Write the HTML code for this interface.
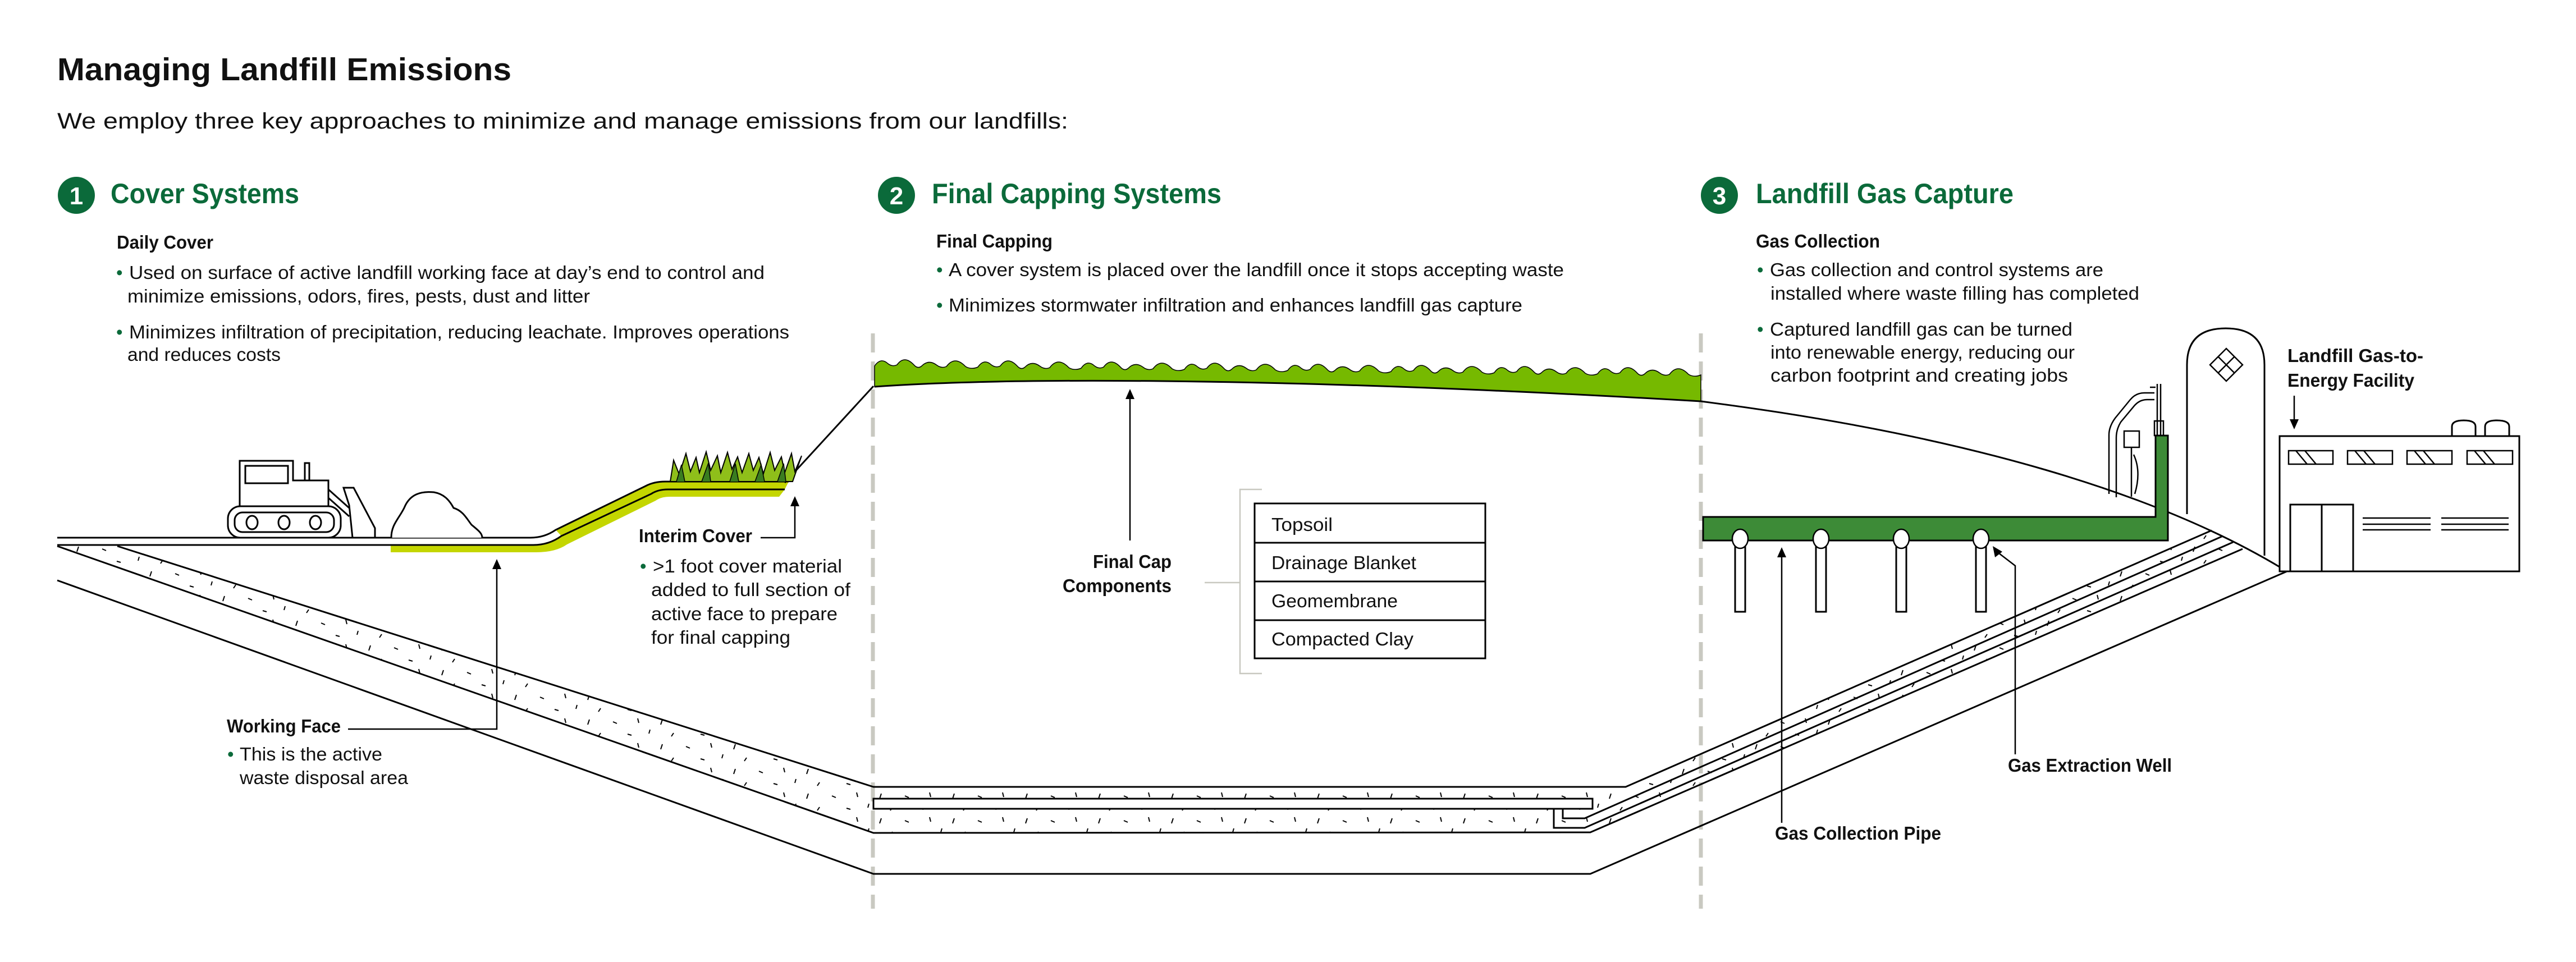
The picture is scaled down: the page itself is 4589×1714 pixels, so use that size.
<!DOCTYPE html>
<html><head><meta charset="utf-8"><style>
html,body{margin:0;padding:0;background:#fff;}
svg{display:block;}
text{font-family:"Liberation Sans",sans-serif;fill:#111;}
.b{font-size:33px;}
.bd{font-size:33px;font-weight:bold;}
.h{font-size:50px;font-weight:bold;fill:#0b6a3a;}
.g{fill:#0b6a3a;font-size:33px;}
.n{font-size:44px;font-weight:bold;fill:#fff;}
</style></head><body>
<svg width="4589" height="1714" viewBox="0 0 4589 1714" xmlns="http://www.w3.org/2000/svg">
<defs>
<pattern id="hat" width="130" height="44" patternUnits="userSpaceOnUse">
<path d="M10,6 l-3,9 M52,10 l7,3 M96,4 l2,8 M30,30 l-4,6 M78,32 l7,2 M118,24 l-2,7" stroke="#000" stroke-width="2" fill="none"/>
</pattern>
</defs>

<!-- Title -->
<text x="102" y="143" font-size="57" font-weight="bold" textLength="809" lengthAdjust="spacingAndGlyphs">Managing Landfill Emissions</text>
<text x="102" y="229" font-size="40" textLength="1801" lengthAdjust="spacingAndGlyphs">We employ three key approaches to minimize and manage emissions from our landfills:</text>

<!-- Section heads -->
<circle cx="136" cy="348" r="33" fill="#0b6a3a"/><text class="n" x="136" y="364" text-anchor="middle">1</text>
<text class="h" x="197" y="362" textLength="336" lengthAdjust="spacingAndGlyphs">Cover Systems</text>
<circle cx="1597" cy="348" r="33" fill="#0b6a3a"/><text class="n" x="1597" y="364" text-anchor="middle">2</text>
<text class="h" x="1660" y="362" textLength="516" lengthAdjust="spacingAndGlyphs">Final Capping Systems</text>
<circle cx="3063" cy="348" r="33" fill="#0b6a3a"/><text class="n" x="3063" y="364" text-anchor="middle">3</text>
<text class="h" x="3128" y="362" textLength="459" lengthAdjust="spacingAndGlyphs">Landfill Gas Capture</text>

<!-- Section 1 text -->
<text class="bd" x="208" y="443" textLength="172" lengthAdjust="spacingAndGlyphs">Daily Cover</text>
<text class="g" x="207" y="497">•</text>
<text class="b" x="230" y="497" textLength="1132" lengthAdjust="spacingAndGlyphs">Used on surface of active landfill working face at day’s end to control and</text>
<text class="b" x="227" y="539" textLength="824" lengthAdjust="spacingAndGlyphs">minimize emissions, odors, fires, pests, dust and litter</text>
<text class="g" x="207" y="603">•</text>
<text class="b" x="230" y="603" textLength="1176" lengthAdjust="spacingAndGlyphs">Minimizes infiltration of precipitation, reducing leachate. Improves operations</text>
<text class="b" x="227" y="643" textLength="273" lengthAdjust="spacingAndGlyphs">and reduces costs</text>

<!-- Section 2 text -->
<text class="bd" x="1668" y="441" textLength="207" lengthAdjust="spacingAndGlyphs">Final Capping</text>
<text class="g" x="1668" y="492">•</text>
<text class="b" x="1690" y="492" textLength="1096" lengthAdjust="spacingAndGlyphs">A cover system is placed over the landfill once it stops accepting waste</text>
<text class="g" x="1668" y="555">•</text>
<text class="b" x="1690" y="555" textLength="1022" lengthAdjust="spacingAndGlyphs">Minimizes stormwater infiltration and enhances landfill gas capture</text>

<!-- Section 3 text -->
<text class="bd" x="3128" y="441" textLength="221" lengthAdjust="spacingAndGlyphs">Gas Collection</text>
<text class="g" x="3130" y="492">•</text>
<text class="b" x="3153" y="492" textLength="594" lengthAdjust="spacingAndGlyphs">Gas collection and control systems are</text>
<text class="b" x="3154" y="534" textLength="657" lengthAdjust="spacingAndGlyphs">installed where waste filling has completed</text>
<text class="g" x="3130" y="598">•</text>
<text class="b" x="3153" y="598" textLength="539" lengthAdjust="spacingAndGlyphs">Captured landfill gas can be turned</text>
<text class="b" x="3154" y="639" textLength="542" lengthAdjust="spacingAndGlyphs">into renewable energy, reducing our</text>
<text class="b" x="3154" y="680" textLength="530" lengthAdjust="spacingAndGlyphs">carbon footprint and creating jobs</text>

<!-- Dashed separators -->
<line x1="1555" y1="594" x2="1555" y2="1619" stroke="#c9c9c1" stroke-width="7" stroke-dasharray="34 16"/>
<line x1="3030" y1="594" x2="3030" y2="1619" stroke="#c9c9c1" stroke-width="7" stroke-dasharray="34 16"/>

<!-- Liner hatch band -->
<polygon points="209,973 1556,1402 2896,1402 3940,945 3995,978 2833,1483 1556,1484 102,973" fill="url(#hat)"/>
<g fill="none" stroke="#000" stroke-width="3">
<polyline points="209,973 1556,1402 2896,1402 3940,945"/>
<polyline points="102,973 1556,1484 2833,1483 3995,978"/>
<polyline points="102,1034 1556,1557 2833,1557 4074,1018"/>
<polyline points="2784,1441 2784,1458 2823,1458 3960,955"/>
<polyline points="2768,1441 2768,1475 2823,1475 3978,966"/>
</g>
<rect x="1556" y="1423" width="1281" height="18" fill="#fff" stroke="#000" stroke-width="3"/>
<rect x="2770" y="1443" width="12" height="30" fill="#fff"/>

<!-- Ground and interim cover -->
<path d="M696,971 L950,971 Q978,971 1000,955 L1160,880 Q1172,872 1190,872 L1398,872 L1388,885 L1192,885 Q1178,885 1168,892 L1010,970 Q990,984 955,984 L696,984 Z" fill="#c4d600"/>
<path d="M990,944 L1150,866 Q1165,858 1185,858 L1405,858 L1398,872 L1190,872 Q1172,872 1160,880 L1000,955 Z" fill="#c4d600"/>
<g fill="none" stroke="#000" stroke-width="3">
<path d="M102,958 L945,958 Q970,958 990,944 L1150,866 Q1165,858 1185,858 L1405,858"/>
<path d="M102,971 L950,971 Q978,971 1000,955 L1160,880 Q1172,872 1190,872 L1398,872"/>
<path d="M1398,860 L1556,688"/>
</g>

<!-- Grass on interim cover -->
<path d="M1194,858 L1200,820 L1210,845 L1222,808 L1230,840 L1240,815 L1246,842 L1258,805 L1266,838 L1278,812 L1284,842 L1296,806 L1304,836 L1314,814 L1322,842 L1334,808 L1342,838 L1352,815 L1360,844 L1372,806 L1380,838 L1392,814 L1398,842 L1410,808 L1416,840 L1428,812 L1412,858 Z" fill="#8fbf1a" stroke="#000" stroke-width="2"/>
<path d="M1205,858 L1214,828 L1220,858 M1250,858 L1262,825 L1266,858 M1300,858 L1310,826 L1316,858 M1345,858 L1356,828 L1362,858 M1385,858 L1396,826 L1400,858" fill="#3a7d20" stroke="#000" stroke-width="1.5"/>

<!-- Bulldozer -->
<g fill="#fff" stroke="#000" stroke-width="3">
<polygon points="427,902 427,821 522,821 522,856 585,856 585,902"/>
<rect x="437" y="830" width="76" height="31"/>
<rect x="543" y="825" width="8" height="31"/>
<line x1="585" y1="872" x2="622" y2="905"/>
<line x1="585" y1="887" x2="622" y2="920"/>
<polygon points="612,869 630,869 668,941 668,958 628,958 622,900"/>
<rect x="406" y="902" width="201" height="56" rx="22"/>
<rect x="418" y="913" width="177" height="35" rx="14"/>
<ellipse cx="449" cy="931" rx="10" ry="12"/>
<ellipse cx="506" cy="931" rx="10" ry="12"/>
<ellipse cx="562" cy="931" rx="10" ry="12"/>
<path d="M697,958 C697,935 710,925 720,905 C730,880 750,875 773,877 C790,880 800,890 808,905 C825,910 832,925 840,935 C852,945 859,950 859,958"/>
</g>

<!-- Interim cover label -->
<text class="bd" x="1138" y="966" textLength="202" lengthAdjust="spacingAndGlyphs">Interim Cover</text>
<polyline points="1355,958 1416,958 1416,900" fill="none" stroke="#000" stroke-width="2.5"/>
<polygon points="1416,884 1408,902 1424,902" fill="#000"/>
<text class="g" x="1140" y="1020">•</text>
<text class="b" x="1163" y="1020" textLength="337" lengthAdjust="spacingAndGlyphs">&gt;1 foot cover material</text>
<text class="b" x="1160" y="1062" textLength="355" lengthAdjust="spacingAndGlyphs">added to full section of</text>
<text class="b" x="1160" y="1105" textLength="332" lengthAdjust="spacingAndGlyphs">active face to prepare</text>
<text class="b" x="1160" y="1147" textLength="248" lengthAdjust="spacingAndGlyphs">for final capping</text>

<!-- Working face label -->
<text class="bd" x="404" y="1305" textLength="203" lengthAdjust="spacingAndGlyphs">Working Face</text>
<polyline points="620,1299 885,1299 885,1012" fill="none" stroke="#000" stroke-width="2.5"/>
<polygon points="885,996 877,1014 893,1014" fill="#000"/>
<text class="g" x="405" y="1355">•</text>
<text class="b" x="427" y="1355" textLength="254" lengthAdjust="spacingAndGlyphs">This is the active</text>
<text class="b" x="427" y="1397" textLength="300" lengthAdjust="spacingAndGlyphs">waste disposal area</text>

<!-- Final cap -->
<path d="M1558,689 L1558,652 q11,-16 24,-4 q8,6 16,2 q13,-18 30,0 q7,8 14,2 q12,-12 26,-2 q9,7 18,3 q15,-20 34,0 q10,6 22,1 q11,-16 24,-4 q8,6 16,2 q13,-18 30,0 q7,8 14,2 q12,-12 26,-2 q9,7 18,3 q15,-20 34,0 q10,6 22,1 q11,-16 24,-4 q8,6 16,2 q13,-18 30,0 q7,8 14,2 q12,-12 26,-2 q9,7 18,3 q15,-20 34,0 q10,6 22,1 q11,-16 24,-4 q8,6 16,2 q13,-18 30,0 q7,8 14,2 q12,-12 26,-2 q9,7 18,3 q15,-20 34,0 q10,6 22,1 q11,-16 24,-4 q8,6 16,2 q13,-18 30,0 q7,8 14,2 q12,-12 26,-2 q9,7 18,3 q15,-20 34,0 q10,6 22,1 q11,-16 24,-4 q8,6 16,2 q13,-18 30,0 q7,8 14,2 q12,-12 26,-2 q9,7 18,3 q15,-20 34,0 q10,6 22,1 q11,-16 24,-4 q8,6 16,2 q13,-18 30,0 q7,8 14,2 q12,-12 26,-2 q9,7 18,3 q15,-20 34,0 q10,6 22,1 q11,-16 24,-4 q8,6 16,2 q13,-18 30,0 q7,8 14,2 q12,-12 26,-2 q9,7 18,3 q15,-20 34,0 q10,6 22,1 L3030,668 L3030,715 C2300,672 1800,672 1558,689 Z" fill="#76b900" stroke="#000" stroke-width="1.5"/>
<path d="M1558,689 C1800,672 2300,672 3030,715 C3500,775 3850,880 4074,1018" fill="none" stroke="#000" stroke-width="3"/>

<!-- Final cap arrow & components -->
<line x1="2013" y1="963" x2="2013" y2="710" stroke="#000" stroke-width="2.5"/>
<polygon points="2013,693 2005,711 2021,711" fill="#000"/>
<text class="bd" x="2087" y="1012" text-anchor="end" textLength="140" lengthAdjust="spacingAndGlyphs">Final Cap</text>
<text class="bd" x="2087" y="1055" text-anchor="end" textLength="194" lengthAdjust="spacingAndGlyphs">Components</text>
<polyline points="2146,1038 2209,1038" stroke="#c8c8c0" stroke-width="2.5" fill="none"/>
<polyline points="2248,872 2209,872 2209,1200 2248,1200" stroke="#c8c8c0" stroke-width="2.5" fill="none"/>
<g fill="#fff" stroke="#000" stroke-width="3">
<rect x="2235" y="897" width="411" height="276"/>
<line x1="2235" y1="967" x2="2646" y2="967"/>
<line x1="2235" y1="1036" x2="2646" y2="1036"/>
<line x1="2235" y1="1105" x2="2646" y2="1105"/>
</g>
<text class="b" x="2265" y="946" textLength="109" lengthAdjust="spacingAndGlyphs">Topsoil</text>
<text class="b" x="2265" y="1014" textLength="258" lengthAdjust="spacingAndGlyphs">Drainage Blanket</text>
<text class="b" x="2265" y="1082" textLength="225" lengthAdjust="spacingAndGlyphs">Geomembrane</text>
<text class="b" x="2265" y="1150" textLength="253" lengthAdjust="spacingAndGlyphs">Compacted Clay</text>

<!-- Gas collection pipe -->
<g stroke="#000" stroke-width="3" fill="#fff">
<rect x="3091" y="960" width="18" height="130"/>
<rect x="3235" y="960" width="18" height="130"/>
<rect x="3378" y="960" width="18" height="130"/>
<rect x="3520" y="960" width="18" height="130"/>
</g>
<polygon points="3034,921 3840,921 3840,776 3862,776 3862,963 3034,963" fill="#3d8b37" stroke="#000" stroke-width="3"/>
<g stroke="#000" stroke-width="2.5" fill="#fff">
<ellipse cx="3100" cy="960" rx="14" ry="17"/>
<ellipse cx="3244" cy="960" rx="14" ry="17"/>
<ellipse cx="3387" cy="960" rx="14" ry="17"/>
<ellipse cx="3529" cy="960" rx="14" ry="17"/>
</g>
<line x1="3174" y1="1466" x2="3174" y2="993" stroke="#000" stroke-width="2.5"/>
<polygon points="3174,975 3166,993 3182,993" fill="#000"/>
<text class="bd" x="3162" y="1496" textLength="296" lengthAdjust="spacingAndGlyphs">Gas Collection Pipe</text>
<polyline points="3590,1344 3590,1008 3560,985" fill="none" stroke="#000" stroke-width="2.5"/>
<polygon points="3550,973 3554,993 3567,983" fill="#000"/>
<text class="bd" x="3577" y="1375" textLength="292" lengthAdjust="spacingAndGlyphs">Gas Extraction Well</text>

<!-- Wellhead -->
<g fill="none" stroke="#000" stroke-width="2.5">
<line x1="3843" y1="776" x2="3843" y2="684"/>
<line x1="3849" y1="776" x2="3849" y2="684"/>
<rect x="3838" y="750" width="16" height="26"/>
<path d="M3838,700 L3820,700 Q3805,700 3795,712 L3768,745 Q3757,760 3757,775 L3757,880"/>
<path d="M3838,712 L3825,712 Q3812,712 3803,722 L3778,752 Q3770,765 3770,780 L3770,886"/>
<rect x="3784" y="768" width="27" height="29"/>
<path d="M3797,797 L3797,885 M3801,810 Q3815,840 3803,880"/>
<line x1="3830" y1="690" x2="3840" y2="690"/>
</g>

<!-- Silo -->
<path d="M3896,916 L3896,650 Q3896,585 3965,585 Q4034,585 4034,650 L4034,990" fill="none" stroke="#000" stroke-width="3"/>
<g fill="none" stroke="#000" stroke-width="2.5">
<polygon points="3966,621 3995,650 3966,679 3937,650"/>
<line x1="3951.5" y1="635.5" x2="3980.5" y2="664.5"/>
<line x1="3980.5" y1="635.5" x2="3951.5" y2="664.5"/>
</g>

<!-- Facility -->
<text class="bd" x="4075" y="645" textLength="242" lengthAdjust="spacingAndGlyphs">Landfill Gas-to-</text>
<text class="bd" x="4075" y="689" textLength="226" lengthAdjust="spacingAndGlyphs">Energy Facility</text>
<line x1="4087" y1="705" x2="4087" y2="748" stroke="#000" stroke-width="2.5"/>
<polygon points="4087,765 4079,747 4095,747" fill="#000"/>
<g fill="#fff" stroke="#000" stroke-width="3">
<path d="M4368,777 L4368,760 Q4368,749 4389,749 Q4410,749 4410,760 L4410,777"/>
<path d="M4427,777 L4427,760 Q4427,749 4448,749 Q4470,749 4470,760 L4470,777"/>
<rect x="4061" y="777" width="427" height="241"/>
<rect x="4080" y="899" width="112" height="119"/>
<line x1="4136" y1="899" x2="4136" y2="1018"/>
</g>
<g fill="none" stroke="#000" stroke-width="2.5">
<rect x="4077" y="803" width="79" height="24"/><path d="M4090,803 L4110,827 M4106,803 L4126,827"/>
<rect x="4182" y="803" width="80" height="24"/><path d="M4195,803 L4215,827 M4211,803 L4231,827"/>
<rect x="4288" y="803" width="80" height="24"/><path d="M4301,803 L4321,827 M4317,803 L4337,827"/>
<rect x="4395" y="803" width="81" height="24"/><path d="M4408,803 L4428,827 M4424,803 L4444,827"/>
<path d="M4209,923 H4330 M4209,934 H4330 M4209,944 H4330 M4349,923 H4469 M4349,934 H4469 M4349,944 H4469"/>
</g>
</svg>
</body></html>
